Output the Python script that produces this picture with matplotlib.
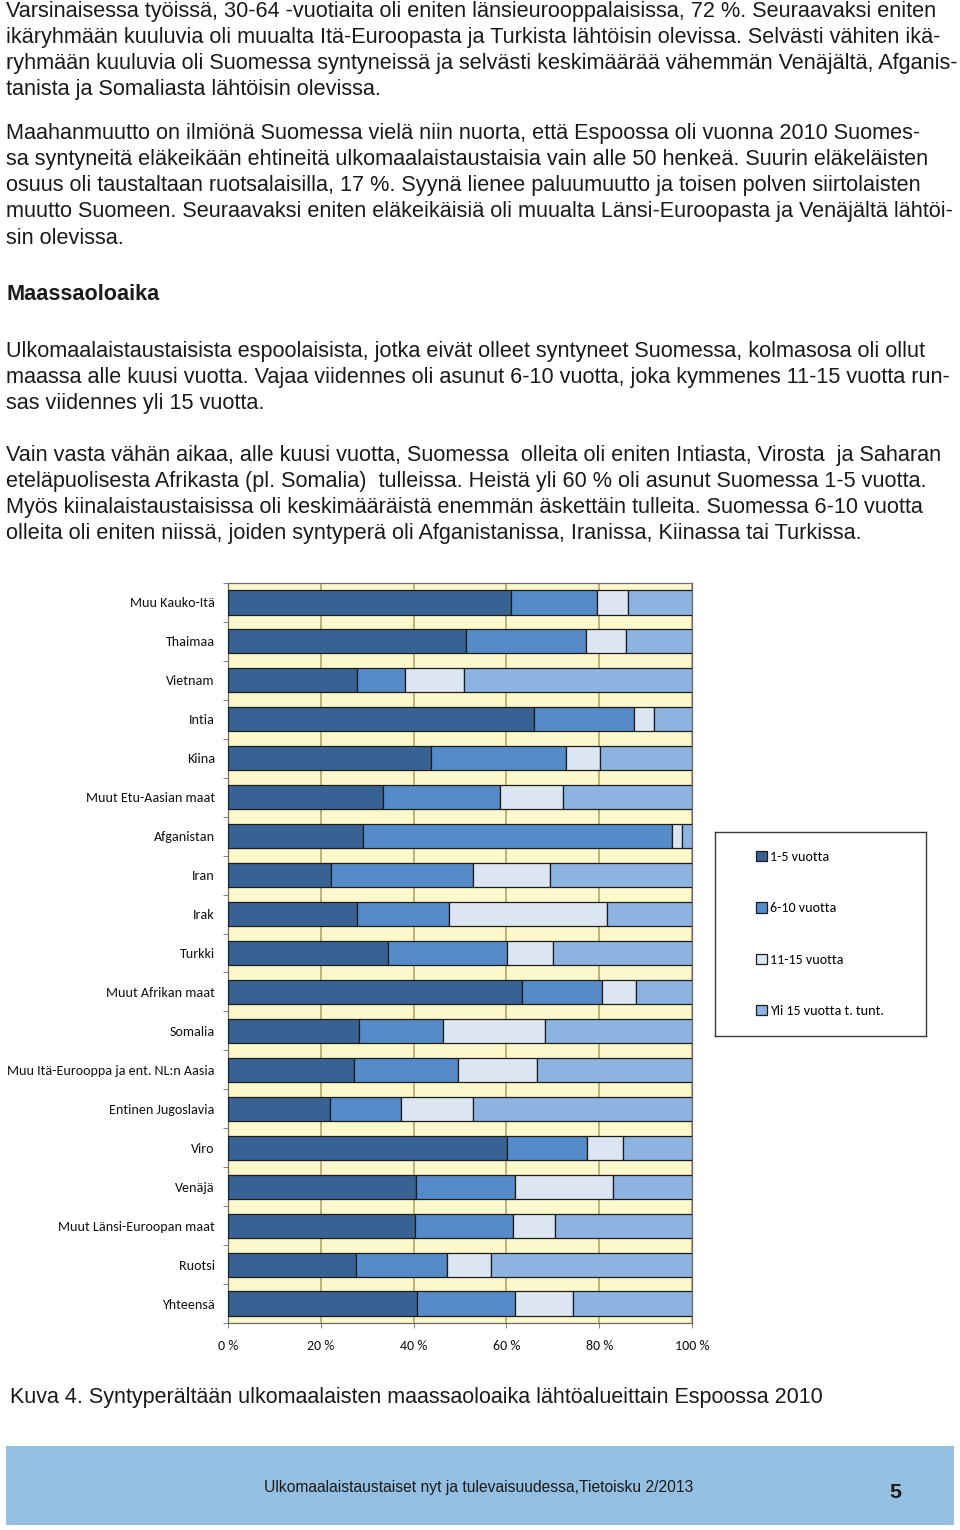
import numpy as np
import matplotlib
matplotlib.use("Agg")
import matplotlib.pyplot as plt
from matplotlib import font_manager
from matplotlib.patches import Rectangle

W, H = 960, 1530

# data (shares in %)
categories = ["Muu Kauko-Itä", "Thaimaa", "Vietnam", "Intia", "Kiina",
              "Muut Etu-Aasian maat", "Afganistan", "Iran", "Irak", "Turkki",
              "Muut Afrikan maat", "Somalia", "Muu Itä-Eurooppa ja ent. NL:n Aasia",
              "Entinen Jugoslavia", "Viro", "Venäjä", "Muut Länsi-Euroopan maat",
              "Ruotsi", "Yhteensä"]
v_1_5 = [60.9, 51.2, 27.7, 65.9, 43.7, 33.3, 29.2, 22.1, 27.8, 34.4,
         63.3, 28.2, 27.1, 21.9, 60.2, 40.6, 40.4, 27.6, 40.8]
v_6_10 = [18.7, 25.9, 10.4, 21.5, 29.1, 25.4, 66.4, 30.6, 19.9, 25.8,
          17.4, 18.2, 22.5, 15.3, 17.1, 21.3, 21.0, 19.7, 21.0]
v_11_15 = [6.7, 8.7, 12.7, 4.5, 7.4, 13.4, 2.3, 16.8, 33.9, 9.8,
           7.2, 22.0, 17.1, 15.5, 7.9, 21.1, 9.1, 9.4, 12.5]
v_yli15 = [13.7, 14.2, 49.2, 8.1, 19.8, 27.9, 2.1, 30.5, 18.4, 30.0,
           12.1, 31.6, 33.3, 47.3, 14.8, 17.0, 29.5, 43.3, 25.7]
series_labels = ["1-5 vuotta", "6-10 vuotta", "11-15 vuotta", "Yli 15 vuotta t. tunt."]
xticks = [0, 20, 40, 60, 80, 100]
xtick_labels = ["0 %", "20 %", "40 %", "60 %", "80 %", "100 %"]

para1 = ["Varsinaisessa työissä, 30-64 -vuotiaita oli eniten länsieurooppalaisissa, 72 %. Seuraavaksi eniten",
         "ikäryhmään kuuluvia oli muualta Itä-Euroopasta ja Turkista lähtöisin olevissa. Selvästi vähiten ikä-",
         "ryhmään kuuluvia oli Suomessa syntyneissä ja selvästi keskimäärää vähemmän Venäjältä, Afganis-",
         "tanista ja Somaliasta lähtöisin olevissa."]
para2 = ["Maahanmuutto on ilmiönä Suomessa vielä niin nuorta, että Espoossa oli vuonna 2010 Suomes-",
         "sa syntyneitä eläkeikään ehtineitä ulkomaalaistaustaisia vain alle 50 henkeä. Suurin eläkeläisten",
         "osuus oli taustaltaan ruotsalaisilla, 17 %. Syynä lienee paluumuutto ja toisen polven siirtolaisten",
         "muutto Suomeen. Seuraavaksi eniten eläkeikäisiä oli muualta Länsi-Euroopasta ja Venäjältä lähtöi-",
         "sin olevissa."]
heading = "Maassaoloaika"
para3 = ["Ulkomaalaistaustaisista espoolaisista, jotka eivät olleet syntyneet Suomessa, kolmasosa oli ollut",
         "maassa alle kuusi vuotta. Vajaa viidennes oli asunut 6-10 vuotta, joka kymmenes 11-15 vuotta run-",
         "sas viidennes yli 15 vuotta."]
para4 = ["Vain vasta vähän aikaa, alle kuusi vuotta, Suomessa  olleita oli eniten Intiasta, Virosta  ja Saharan",
         "eteläpuolisesta Afrikasta (pl. Somalia)  tulleissa. Heistä yli 60 % oli asunut Suomessa 1-5 vuotta.",
         "Myös kiinalaistaustaisissa oli keskimääräistä enemmän äskettäin tulleita. Suomessa 6-10 vuotta",
         "olleita oli eniten niissä, joiden syntyperä oli Afganistanissa, Iranissa, Kiinassa tai Turkissa."]
caption = "Kuva 4. Syntyperältään ulkomaalaisten maassaoloaika lähtöalueittain Espoossa 2010"
footer = "Ulkomaalaistaustaiset nyt ja tulevaisuudessa,Tietoisku 2/2013"
page_no = "5"

colors = ["#376293", "#568BC9", "#DCE6F2", "#8DB3E0"]


def pick(names):
    for n in names:
        try:
            font_manager.findfont(font_manager.FontProperties(family=n), fallback_to_default=False)
            return n
        except ValueError:
            pass
    return "DejaVu Sans"


ARIAL = pick(["Liberation Sans", "Arimo", "DejaVu Sans"])
NARROW = pick(["Liberation Sans Narrow", "Liberation Sans"])
CALIBRI = pick(["Carlito", "Lato", "Open Sans"])

fig = plt.figure(figsize=(W / 100, H / 100), dpi=100, facecolor="white")
renderer = fig.canvas.get_renderer()


def px(size):
    return size * 0.72


def put(x, y, s, size, **kw):
    return fig.text(x / W, 1 - y / H, s, fontsize=px(size), va="baseline", **kw)


def fit(x, y, s, width, family, **kw):
    t = put(x, y, s, 20, family=family, **kw)
    w = t.get_window_extent(renderer).width
    t.set_fontsize(px(20) * width / w)
    return t


BODY = 21.6
for lines, y0 in [(para1, 17.5), (para2, 139.5), (para3, 357), (para4, 461)]:
    for i, line in enumerate(lines):
        put(6, y0 + 26 * i, line, BODY, family=ARIAL, color="#1a1a1a")
put(6, 299.5, heading, BODY, family=ARIAL, weight="bold", color="#1a1a1a")

# chart
n = len(categories)
ax = fig.add_axes([228 / W, 1 - 1323 / H, 464 / W, 740 / H])
ax.set_facecolor("#FEF8CD")
y = np.arange(n)
left = np.zeros(n)
for vals, col, lab in zip([v_1_5, v_6_10, v_11_15, v_yli15], colors, series_labels):
    ax.barh(y, vals, left=left, height=0.62, color=col, edgecolor="#1c1c1c",
            linewidth=0.9, label=lab, zorder=3)
    left += np.array(vals)
ax.set_xlim(0, 100)
ax.set_ylim(n - 0.5, -0.5)
ax.xaxis.grid(True, color="#B2A66C", linewidth=1.2, zorder=0)
ax.set_axisbelow(True)

# label size for the Calibri-like font: fit the longest label to 207 px
probe = fig.text(0, 0, categories[12], fontsize=10, family=CALIBRI)
lab_pt = 10 * 207 / probe.get_window_extent(renderer).width
probe.remove()

ax.set_yticks(y)
ax.set_yticklabels(categories, fontsize=lab_pt, family=CALIBRI, color="#111111")
ax.set_yticks(np.arange(-0.5, n, 1), minor=True)
ax.tick_params(axis="y", which="major", length=0, pad=9.5)
ax.tick_params(axis="y", which="minor", length=3.5, color="#888888", width=0.8)
ax.set_xticks(xticks)
ax.set_xticklabels(xtick_labels, fontsize=lab_pt, family=CALIBRI, color="#111111")
ax.tick_params(axis="x", length=3.5, color="#888888", width=0.8, pad=8.5)
for s in ax.spines.values():
    s.set_color("#6b6b6b")
    s.set_linewidth(0.9)

# legend box
lax = fig.add_axes([715 / W, 1 - 1036 / H, 211 / W, 204 / H])
lax.set_xticks([])
lax.set_yticks([])
for s in lax.spines.values():
    s.set_color("#3a3a3a")
    s.set_linewidth(1.0)
handles, labels = ax.get_legend_handles_labels()
lax.legend(handles, labels, loc="upper left", bbox_to_anchor=(41 / 211, (1036 - 851) / 204),
           frameon=False, borderpad=0, borderaxespad=0, handlelength=0.75, handleheight=0.75,
           handletextpad=0.25, labelspacing=2.8, prop={"family": CALIBRI, "size": lab_pt})

# caption and footer
fit(10, 1403, caption, 818, NARROW, color="#1a1a1a")
fig.add_artist(Rectangle((6 / W, 1 - 1525 / H), 948 / W, 79 / H, transform=fig.transFigure,
                         facecolor="#94BFE0", edgecolor="none", zorder=0))
fit(264, 1492, footer, 431, NARROW, color="#1a1a1a")
put(889, 1498, page_no, 21.5, family=ARIAL, weight="bold", color="#1a1a1a")

fig.savefig("out.png", dpi=100)
